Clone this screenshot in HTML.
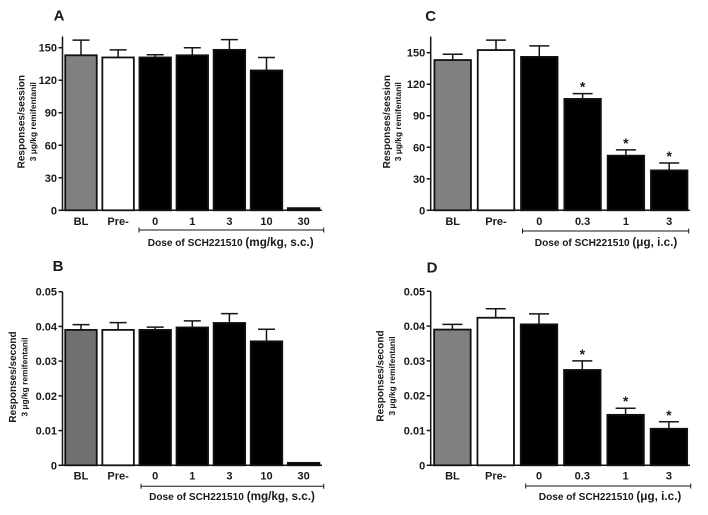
<!DOCTYPE html>
<html lang="en">
<head>
<meta charset="utf-8">
<title>SCH221510 dose response charts</title>
<style>
  html, body { margin: 0; padding: 0; background: #fff; }
  body { width: 708px; height: 515px; overflow: hidden; }
  svg { display: block; font-family: "Liberation Sans", "DejaVu Sans", sans-serif; font-weight: bold; fill: #1a1a1a; filter: blur(0.35px); }
  .panel-letter { font-size: 15px; }
  .y-title { font-size: 10px; }
  .y-sub { font-size: 8.4px; }
  .dose-small { font-size: 10.1px; }
  .dose-big { font-size: 11.7px; }
</style>
</head>
<body>
<svg id="figure" xmlns="http://www.w3.org/2000/svg" width="708" height="515" viewBox="0 0 708 515">
  <rect width="708" height="515" fill="#fff"/>

  <g id="panel-a">
    <text class="panel-letter" x="59" y="20.5" text-anchor="middle">A</text>
    <text class="y-title" transform="translate(24.5,121.7) rotate(-90)" text-anchor="middle">Responses/session</text>
    <text class="y-sub" transform="translate(36,121.7) rotate(-90)" text-anchor="middle">3 μg/kg remifentanil</text>
    <text x="230.7" y="246" text-anchor="middle"><tspan class="dose-small">Dose of SCH221510 </tspan><tspan class="dose-big">(mg/kg, s.c.)</tspan></text>
  </g>

  <g id="panel-b">
    <text class="panel-letter" x="58" y="271" text-anchor="middle">B</text>
    <text class="y-title" transform="translate(16,377) rotate(-90)" text-anchor="middle">Responses/second</text>
    <text class="y-sub" transform="translate(27.5,377) rotate(-90)" text-anchor="middle">3 μg/kg remifentanil</text>
    <text x="232" y="500" text-anchor="middle"><tspan class="dose-small">Dose of SCH221510 </tspan><tspan class="dose-big">(mg/kg, s.c.)</tspan></text>
  </g>

  <g id="panel-c">
    <text class="panel-letter" x="430.7" y="21" text-anchor="middle">C</text>
    <text class="y-title" transform="translate(390,121.7) rotate(-90)" text-anchor="middle">Responses/session</text>
    <text class="y-sub" transform="translate(401,121.7) rotate(-90)" text-anchor="middle">3 μg/kg remifentanil</text>
    <text x="606" y="246" text-anchor="middle"><tspan class="dose-small">Dose of SCH221510 </tspan><tspan class="dose-big">(μg, i.c.)</tspan></text>
  </g>

  <g id="panel-d">
    <text class="panel-letter" x="432" y="272.5" text-anchor="middle">D</text>
    <text class="y-title" transform="translate(383.5,376) rotate(-90)" text-anchor="middle">Responses/second</text>
    <text class="y-sub" transform="translate(395,376) rotate(-90)" text-anchor="middle">3 μg/kg remifentanil</text>
    <text x="610" y="500" text-anchor="middle"><tspan class="dose-small">Dose of SCH221510 </tspan><tspan class="dose-big">(μg, i.c.)</tspan></text>
  </g>
</svg>

<script>
// ---- chart data ----
const categoriesSc = ['BL', 'Pre-', '0', '1', '3', '10', '30'];
const categoriesIc = ['BL', 'Pre-', '0', '0.3', '1', '3'];

const sessionTicks = [0, 30, 60, 90, 120, 150];
const sessionTickLabels = ['0', '30', '60', '90', '120', '150'];
const rateTicks = [0, 0.01, 0.02, 0.03, 0.04, 0.05];
const rateTickLabels = ['0', '0.01', '0.02', '0.03', '0.04', '0.05'];

const meansA = [143, 141, 141, 143, 148, 129, 2];
const errorsA = [14, 7, 2.5, 7, 9.5, 12, 0];

const meansB = [0.039, 0.039, 0.039, 0.0397, 0.041, 0.0357, 0.0007];
const errorsB = [0.0015, 0.0021, 0.0008, 0.0019, 0.0027, 0.0035, 0];

const meansC = [143, 152.5, 146, 106, 52, 38];
const errorsC = [5.5, 9.5, 10.5, 5, 5.5, 7];
const significantC = [false, false, false, true, true, true];

const meansD = [0.039, 0.0424, 0.0405, 0.0274, 0.0145, 0.0105];
const errorsD = [0.0015, 0.0026, 0.003, 0.0026, 0.0019, 0.002];
const significantD = [false, false, false, true, true, true];

const noStars = [false, false, false, false, false, false, false];

// ---- layout ----
const SVG_NS = 'http://www.w3.org/2000/svg';

function line(parent, x1, y1, x2, y2, w, name) {
  const el = document.createElementNS(SVG_NS, 'line');
  el.setAttribute('x1', x1);
  el.setAttribute('y1', y1);
  el.setAttribute('x2', x2);
  el.setAttribute('y2', y2);
  el.setAttribute('stroke', '#151515');
  el.setAttribute('stroke-width', w);
  
  
  parent.appendChild(el);
  return el;
}

function label(parent, x, y, str, anchor, size, name) {
  const el = document.createElementNS(SVG_NS, 'text');
  el.setAttribute('x', x);
  el.setAttribute('y', y);
  el.setAttribute('text-anchor', anchor);
  el.setAttribute('font-size', size);
  
  
  el.textContent = str;
  parent.appendChild(el);
  return el;
}

function drawPanel(p) {
  const g = document.getElementById(p.id);
  const xScale = i => p.firstCenter + i * p.step;
  const yScale = v => p.yBase - (v / p.yMax) * (p.yBase - p.yMaxPx);

  // bars and error bars
  p.means.forEach((m, i) => {
    const cx = xScale(i);
    const top = yScale(m);
    const errTop = yScale(m + p.errors[i]);
    if (p.errors[i] > 0) {
      line(g, cx, top, cx, errTop, 1.5, 'error-bar-' + p.categories[i]);
      line(g, cx - p.capHalf, errTop, cx + p.capHalf, errTop, 1.5, 'error-cap-' + p.categories[i]);
    }
    const bar = document.createElementNS(SVG_NS, 'rect');
    bar.setAttribute('x', cx - p.barWidth / 2);
    bar.setAttribute('y', top);
    bar.setAttribute('width', p.barWidth);
    bar.setAttribute('height', Math.max(0, p.yBase - top));
    bar.setAttribute('fill', i === 0 ? p.baseFill : (i === 1 ? '#ffffff' : '#000000'));
    bar.setAttribute('stroke', '#111');
    bar.setAttribute('stroke-width', 1.8);
    
    
    g.appendChild(bar);

    label(g, cx, p.catY, p.categories[i], 'middle', 11, 'x-tick-label-' + p.categories[i]);

    if (p.stars[i]) {
      label(g, cx, errTop - 2, '*', 'middle', 14, 'significance-star-' + p.categories[i]);
    }
  });

  // y axis
  line(g, p.axisX, p.axisTop, p.axisX, p.yBase + 0.75, 1.5, 'y-axis-line');
  p.ticks.forEach((t, i) => {
    const y = yScale(t);
    line(g, p.axisX - 4, y, p.axisX, y, 1.5, 'y-tick');
    label(g, p.axisX - 5.5, y + 4, p.tickLabels[i], 'end', 11, 'y-tick-label-' + p.tickLabels[i]);
  });

  // x axis
  line(g, p.axisX - 0.75, p.yBase, p.axisEnd, p.yBase, 1.5, 'x-axis-line');

  // dose bracket
  line(g, p.bracket1, p.bracketY, p.bracket2, p.bracketY, 1, 'dose-bracket');
  line(g, p.bracket1, p.bracketY - 2.5, p.bracket1, p.bracketY + 2.5, 1, 'dose-bracket-left-end');
  line(g, p.bracket2, p.bracketY - 2.5, p.bracket2, p.bracketY + 2.5, 1, 'dose-bracket-right-end');
}

drawPanel({
  id: 'panel-a', categories: categoriesSc, means: meansA, errors: errorsA, stars: noStars,
  ticks: sessionTicks, tickLabels: sessionTickLabels, yMax: 150,
  yBase: 210.3, yMaxPx: 47.7, axisX: 62.5, axisTop: 36.5, axisEnd: 322,
  firstCenter: 81, step: 37.1, barWidth: 31.5, capHalf: 8.5, catY: 225,
  baseFill: '#808080', bracket1: 139, bracket2: 323.7, bracketY: 230
});
drawPanel({
  id: 'panel-b', categories: categoriesSc, means: meansB, errors: errorsB, stars: noStars,
  ticks: rateTicks, tickLabels: rateTickLabels, yMax: 0.05,
  yBase: 465.3, yMaxPx: 291.7, axisX: 62.5, axisTop: 291.7, axisEnd: 322,
  firstCenter: 81, step: 37.1, barWidth: 31.5, capHalf: 8.5, catY: 479.5,
  baseFill: '#707070', bracket1: 141, bracket2: 323.7, bracketY: 486.3
});
drawPanel({
  id: 'panel-c', categories: categoriesIc, means: meansC, errors: errorsC, stars: significantC,
  ticks: sessionTicks, tickLabels: sessionTickLabels, yMax: 150,
  yBase: 210.3, yMaxPx: 52.7, axisX: 430.7, axisTop: 36.5, axisEnd: 690,
  firstCenter: 452.7, step: 43.3, barWidth: 36.5, capHalf: 10, catY: 225,
  baseFill: '#808080', bracket1: 522.5, bracket2: 688.7, bracketY: 231
});
drawPanel({
  id: 'panel-d', categories: categoriesIc, means: meansD, errors: errorsD, stars: significantD,
  ticks: rateTicks, tickLabels: rateTickLabels, yMax: 0.05,
  yBase: 465.3, yMaxPx: 291.3, axisX: 430.7, axisTop: 291.3, axisEnd: 690,
  firstCenter: 452.4, step: 43.3, barWidth: 36.5, capHalf: 10, catY: 479.5,
  baseFill: '#808080', bracket1: 525.7, bracket2: 690.7, bracketY: 486
});
</script>
</body>
</html>
